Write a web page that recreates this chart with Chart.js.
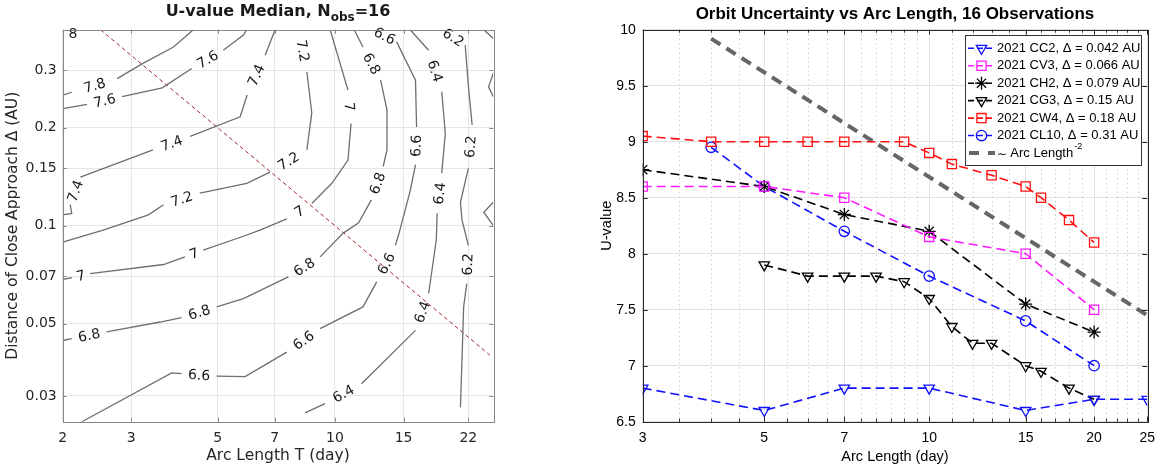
<!DOCTYPE html>
<html lang="en">
<head>
<meta charset="UTF-8">
<title>U-value Median and Orbit Uncertainty</title>
<script src="https://cdn.jsdelivr.net/npm/chart.js@4.4.1/dist/chart.umd.min.js"></script>
<style>
html, body { margin: 0; padding: 0; background: #fff; }
body { width: 1163px; height: 474px; position: relative; overflow: hidden; }
#left { position: absolute; left: 0; top: 0; width: 520px; height: 474px; }
#right { position: absolute; left: 580px; top: 0; width: 583px; height: 474px; }
</style>
</head>
<body>
<canvas id="left" width="520" height="474"></canvas>
<canvas id="right" width="583" height="474"></canvas>
<script>
// ---- left panel: contours of median U-value, points are [arc length T (day), delta (AU)]
// a null splits a contour, its label sits in the gap
const contourLevels = ["8", "7.8", "7.6", "7.4", "7.2", "7", "6.8", "6.6", "6.4", "6.2", "6"];
const unlabeled = ["6"];
const c80 = [[2.0, 0.39], null, [2.26, 0.39]];
const c78 = [[2.0, 0.252], [2.11, 0.257], null, [2.76, 0.283], [3.18, 0.313], [3.85, 0.354], [4.33, 0.4]];
const c76 = [[2.0, 0.229], [2.31, 0.236], null, [2.84, 0.249], [3.6, 0.265], [4.29, 0.304], null, [5.17, 0.346], [5.82, 0.385], [5.94, 0.4]];
const c74 = [[7.02, 0.4], [6.62, 0.334], null, [5.95, 0.252], [5.71, 0.216], [4.25, 0.188], null, [3.41, 0.171], [2.22, 0.141], null, [2.09, 0.116], [2.11, 0.109], [2.0, 0.108]];
const c72 = [[8.09, 0.4], null, [8.47, 0.297], [8.72, 0.222], [8.47, 0.171], null, [6.81, 0.146], [5.94, 0.135], [4.5, 0.126], null, [3.63, 0.116], [3.32, 0.108], [2.54, 0.0969], [2.0, 0.0891]];
const c70 = [[9.72, 0.4], [10.8, 0.261], null, [11.0, 0.206], [10.8, 0.159], [9.82, 0.135], [8.72, 0.117], null, [7.52, 0.105], [6.42, 0.0969], [5.82, 0.0928], [4.59, 0.0841], null, [4.12, 0.0802], [3.63, 0.076], [2.35, 0.0713], null, [2.11, 0.0692], [2.0, 0.0684]];
const c68 = [[11.2, 0.4], [11.8, 0.354], null, [13.1, 0.28], [13.6, 0.227], [13.6, 0.171], [13.3, 0.152], null, [12.4, 0.12], [11.5, 0.102], [10.5, 0.0949], [9.16, 0.0802], null, [7.59, 0.0696], [5.82, 0.0597], [4.97, 0.0563], null, [4.04, 0.0522], [3.56, 0.0506], [2.59, 0.0472], null, [2.11, 0.045], [2.0, 0.0444]];
const c66 = [[12.5, 0.4], null, [14.4, 0.367], [16.1, 0.28], [16.2, 0.201], null, [16.1, 0.154], [15.6, 0.128], [14.6, 0.0946], [14.3, 0.0871], null, [12.8, 0.0672], [11.8, 0.0563], [9.16, 0.0483], null, [7.52, 0.0409], [5.88, 0.0344], [4.97, 0.0345], null, [4.04, 0.0351], [3.81, 0.0353], [2.24, 0.025]];
const c64 = [[15.6, 0.4], [17.4, 0.346], null, [18.8, 0.258], [19.2, 0.192], [18.8, 0.145], null, [18.3, 0.109], [18.2, 0.0902], [17.4, 0.0619], null, [16.1, 0.0477], [11.7, 0.0327], null, [9.43, 0.0284], [8.38, 0.0266]];
const c62 = [[18.8, 0.4], null, [21.6, 0.359], [22.0, 0.27], [22.5, 0.204], null, [22.0, 0.15], [21.0, 0.118], [21.2, 0.104], [22.0, 0.0871], null, [21.8, 0.0664], [21.4, 0.0563], [21.0, 0.0277]];
const c60 = [[24.1, 0.4], [25.5, 0.376], null, [25.5, 0.294], [24.8, 0.267], [25.5, 0.249], null, [25.5, 0.118], [24.1, 0.11], [25.5, 0.1]];
const contourLines = [c80, c78, c76, c74, c72, c70, c68, c66, c64, c62, c60];
// dashed dark red guide
const guideT = [2.5, 25];
const guideD = [0.4, 0.04];
const leftXTicks = [2, 3, 5, 7, 10, 15, 22];
const leftYTicks = [0.03, 0.05, 0.07, 0.1, 0.15, 0.2, 0.3];

// ---- right panel: U-value vs arc length
const cc2Days = [3, 5, 7, 10, 15, 20, 25];
const cc2U = [6.8, 6.6, 6.8, 6.8, 6.6, 6.7, 6.7];
const cv3Days = [3, 5, 7, 10, 15, 20];
const cv3U = [8.6, 8.6, 8.5, 8.15, 8.0, 7.5];
const ch2Days = [3, 5, 7, 10, 15, 20];
const ch2U = [8.75, 8.6, 8.35, 8.2, 7.55, 7.3];
const cg3Days = [5, 6, 7, 8, 9, 10, 11, 12, 13, 15, 16, 18, 20];
const cg3U = [7.9, 7.8, 7.8, 7.8, 7.75, 7.6, 7.35, 7.2, 7.2, 7.0, 6.95, 6.8, 6.7];
const cw4Days = [3, 4, 5, 6, 7, 9, 10, 11, 13, 15, 16, 18, 20];
const cw4U = [9.05, 9.0, 9.0, 9.0, 9.0, 9.0, 8.9, 8.8, 8.7, 8.6, 8.5, 8.3, 8.1];
const cl10Days = [4, 5, 7, 10, 15, 20];
const cl10U = [8.95, 8.6, 8.2, 7.8, 7.4, 7.0];
const refDays = [4, 25];
const refU = [9.92, 7.45];
const seriesNames = [
  "2021 CC2, \u0394 = 0.042 AU",
  "2021 CV3, \u0394 = 0.066 AU",
  "2021 CH2, \u0394 = 0.079 AU",
  "2021 CG3, \u0394 = 0.15 AU",
  "2021 CW4, \u0394 = 0.18 AU",
  "2021 CL10, \u0394 = 0.31 AU"
];
const rightXTicks = [3, 5, 7, 10, 15, 20, 25];
const rightXMinor = [3.5, 4, 4.5, 5.5, 6, 6.5, 7.5, 8, 8.5, 9, 9.5, 11, 12, 13, 14, 16, 17, 18, 19, 21, 22, 23, 24];

const toXY = (xs, ys) => xs.map((x, i) => ({ x: x, y: ys[i] }));

// ---------------- left chart ----------------
const leftFont = '"DejaVu Sans", sans-serif';

const contourDecor = {
  id: "contourDecor",
  afterDatasetsDraw(chart) {
    const ctx = chart.ctx;
    const area = chart.chartArea;
    const xs = chart.scales.x, ys = chart.scales.y;

    // labels in the contour gaps
    ctx.save();
    ctx.font = "14px " + leftFont;
    ctx.fillStyle = "#1a1a1a";
    ctx.textAlign = "center";
    ctx.textBaseline = "middle";
    contourLines.forEach((line, k) => {
      if (unlabeled.includes(contourLevels[k])) return;
      const meta = chart.getDatasetMeta(k);
      line.forEach((p, i) => {
        if (p !== null) return;
        const a = meta.data[i - 1], b = meta.data[i + 1];
        let ang = Math.atan2(b.y - a.y, b.x - a.x);
        if (ang > Math.PI / 2) ang -= Math.PI;
        if (ang < -Math.PI / 2) ang += Math.PI;
        ctx.save();
        ctx.translate((a.x + b.x) / 2, (a.y + b.y) / 2);
        ctx.rotate(ang);
        ctx.fillText(contourLevels[k], 0, 1);
        ctx.restore();
      });
    });
    ctx.restore();

    // box and inward ticks
    ctx.save();
    ctx.strokeStyle = "#868686";
    ctx.lineWidth = 1;
    ctx.beginPath();
    leftXTicks.forEach(v => {
      const x = Math.round(xs.getPixelForValue(v)) + 0.5;
      ctx.moveTo(x, area.bottom); ctx.lineTo(x, area.bottom - 4);
      ctx.moveTo(x, area.top); ctx.lineTo(x, area.top + 4);
    });
    leftYTicks.forEach(v => {
      const y = Math.round(ys.getPixelForValue(v)) + 0.5;
      ctx.moveTo(area.left, y); ctx.lineTo(area.left + 4, y);
      ctx.moveTo(area.right, y); ctx.lineTo(area.right - 4, y);
    });
    ctx.stroke();
    ctx.strokeRect(Math.round(area.left) + 0.5, Math.round(area.top) + 0.5,
      Math.round(area.right - area.left), Math.round(area.bottom - area.top));
    ctx.restore();
  },
  afterDraw(chart) {
    const ctx = chart.ctx;
    const area = chart.chartArea;
    const cx = (area.left + area.right) / 2;
    ctx.save();
    ctx.fillStyle = "#1a1a1a";
    // title with subscript
    const big = "bold 16px " + leftFont, small = "bold 12px " + leftFont;
    const t1 = "U-value Median, N", t2 = "obs", t3 = "=16";
    ctx.font = big; const w1 = ctx.measureText(t1).width, w3 = ctx.measureText(t3).width;
    ctx.font = small; const w2 = ctx.measureText(t2).width;
    let x = cx - (w1 + w2 + w3) / 2;
    ctx.textAlign = "left";
    ctx.textBaseline = "alphabetic";
    ctx.font = big; ctx.fillText(t1, x, 16); x += w1;
    ctx.font = small; ctx.fillText(t2, x, 21); x += w2;
    ctx.font = big; ctx.fillText(t3, x, 16);
    // axis titles
    ctx.fillStyle = "#262626";
    ctx.font = "15.5px " + leftFont;
    ctx.textAlign = "center";
    ctx.textBaseline = "middle";
    ctx.fillText("Arc Length T (day)", cx, 456);
    ctx.translate(13, (area.top + area.bottom) / 2);
    ctx.rotate(-Math.PI / 2);
    ctx.fillText("Distance of Close Approach \u0394 (AU)", 0, 0);
    ctx.restore();
  }
};

const contourSets = contourLines.map((line, k) => ({
  label: contourLevels[k],
  data: line.map(p => p ? { x: p[0], y: p[1] } : { x: null, y: null }),
  showLine: true,
  spanGaps: false,
  borderColor: "#6e6e6e",
  borderWidth: 1.3,
  pointRadius: 0
}));
contourSets.push({
  label: "guide",
  data: toXY(guideT, guideD),
  showLine: true,
  borderColor: "#a3262f",
  borderWidth: 1,
  borderDash: [4, 3],
  pointRadius: 0
});

new Chart(document.getElementById("left"), {
  type: "scatter",
  data: { datasets: contourSets },
  options: {
    responsive: false,
    animation: false,
    events: [],
    layout: { padding: { left: 0, right: 26.7, top: 29.7, bottom: 0 } },
    plugins: { legend: { display: false }, tooltip: { enabled: false }, title: { display: false } },
    scales: {
      x: {
        type: "logarithmic",
        min: 2,
        max: 25.5,
        afterBuildTicks: s => { s.ticks = leftXTicks.map(v => ({ value: v })); },
        afterFit: s => { s.height = 52.3; },
        grid: { color: "#e6e6e6", drawTicks: false },
        border: { display: false },
        ticks: {
          autoSkip: false, maxRotation: 0, padding: 8,
          color: "#262626", font: { family: leftFont, size: 14 },
          callback: v => String(v)
        }
      },
      y: {
        type: "logarithmic",
        min: 0.025,
        max: 0.4,
        afterBuildTicks: s => { s.ticks = leftYTicks.map(v => ({ value: v })); },
        afterFit: s => { s.width = 62.7; },
        grid: { color: "#e6e6e6", drawTicks: false },
        border: { display: false },
        ticks: {
          autoSkip: false, padding: 6,
          color: "#262626", font: { family: leftFont, size: 14 },
          callback: v => String(v)
        }
      }
    }
  },
  plugins: [contourDecor]
});

// ---------------- right chart ----------------
const rightFont = '"Liberation Sans", Arial, sans-serif';

function series(label, xs, ys, color, style, rotation, radius) {
  return {
    label: label,
    data: toXY(xs, ys),
    showLine: true,
    borderColor: color,
    borderWidth: 1.6,
    borderDash: [9, 5],
    pointStyle: style,
    pointRotation: rotation,
    pointRadius: radius,
    pointBorderColor: color,
    pointBackgroundColor: "rgba(0,0,0,0)",
    pointBorderWidth: 1.3
  };
}

const rightSets = [
  series(seriesNames[0], cc2Days, cc2U, "#1010ff", "triangle", 180, 6),
  series(seriesNames[1], cv3Days, cv3U, "#ff1aff", "rect", 0, 6.5),
  series(seriesNames[2], ch2Days, ch2U, "#000000", "star", 0, 6.5),
  series(seriesNames[3], cg3Days, cg3U, "#000000", "triangle", 180, 6),
  series(seriesNames[4], cw4Days, cw4U, "#ff1010", "rect", 0, 6.5),
  series(seriesNames[5], cl10Days, cl10U, "#1010ff", "circle", 0, 5.2),
  {
    label: "ref",
    data: toXY(refDays, refU),
    showLine: true,
    borderColor: "#666666",
    borderWidth: 4,
    borderDash: [11, 7],
    pointRadius: 0
  }
];

const orbitDecor = {
  id: "orbitDecor",
  beforeDatasetsDraw(chart) {
    const ctx = chart.ctx;
    const area = chart.chartArea;
    const xs = chart.scales.x;
    ctx.save();
    ctx.strokeStyle = "#cfcfcf";
    ctx.lineWidth = 1;
    ctx.setLineDash([1.5, 3]);
    ctx.beginPath();
    rightXMinor.forEach(v => {
      const x = Math.round(xs.getPixelForValue(v)) + 0.5;
      ctx.moveTo(x, area.top); ctx.lineTo(x, area.bottom);
    });
    ctx.stroke();
    ctx.restore();
  },
  afterDatasetsDraw(chart) {
    const ctx = chart.ctx;
    const area = chart.chartArea;
    const xs = chart.scales.x, ys = chart.scales.y;
    ctx.save();
    ctx.strokeStyle = "#262626";
    ctx.lineWidth = 1;
    ctx.beginPath();
    rightXTicks.forEach(v => {
      const x = Math.round(xs.getPixelForValue(v)) + 0.5;
      ctx.moveTo(x, area.bottom); ctx.lineTo(x, area.bottom - 5);
      ctx.moveTo(x, area.top); ctx.lineTo(x, area.top + 5);
    });
    rightXMinor.forEach(v => {
      const x = Math.round(xs.getPixelForValue(v)) + 0.5;
      ctx.moveTo(x, area.bottom); ctx.lineTo(x, area.bottom - 3);
      ctx.moveTo(x, area.top); ctx.lineTo(x, area.top + 3);
    });
    ys.ticks.forEach(t => {
      const y = Math.round(ys.getPixelForValue(t.value)) + 0.5;
      ctx.moveTo(area.left, y); ctx.lineTo(area.left + 5, y);
      ctx.moveTo(area.right, y); ctx.lineTo(area.right - 5, y);
    });
    ctx.stroke();
    ctx.strokeRect(Math.round(area.left) + 0.5, Math.round(area.top) + 0.5,
      Math.round(area.right - area.left), Math.round(area.bottom - area.top));
    ctx.restore();
  },
  afterDraw(chart) {
    const ctx = chart.ctx;
    const area = chart.chartArea;
    const cx = (area.left + area.right) / 2;
    ctx.save();
    // titles
    ctx.fillStyle = "#000";
    ctx.textAlign = "center";
    ctx.textBaseline = "middle";
    ctx.font = "bold 17px " + rightFont;
    ctx.fillText("Orbit Uncertainty vs Arc Length, 16 Observations", cx, 14.5);
    ctx.font = "14.5px " + rightFont;
    ctx.fillText("Arc Length (day)", cx, 457);
    ctx.save();
    ctx.translate(27, (area.top + area.bottom) / 2);
    ctx.rotate(-Math.PI / 2);
    ctx.fillText("U-value", 0, 0);
    ctx.restore();

    // legend box
    const bx = 385.5, by = 35.5, bw = 176, bh = 130;
    ctx.fillStyle = "#fff";
    ctx.fillRect(bx, by, bw, bh);
    ctx.strokeStyle = "#333";
    ctx.lineWidth = 1;
    ctx.strokeRect(bx, by, bw, bh);
    ctx.font = "13px " + rightFont;
    ctx.textAlign = "left";
    ctx.textBaseline = "middle";
    seriesNames.forEach((name, i) => {
      const ds = chart.data.datasets[i];
      const y = 48.3 + i * 17.45;
      ctx.save();
      ctx.strokeStyle = ds.borderColor;
      ctx.lineWidth = 1.6;
      ctx.setLineDash([6, 3]);
      ctx.beginPath();
      ctx.moveTo(388, y); ctx.lineTo(415, y);
      ctx.stroke();
      ctx.setLineDash([]);
      ctx.fillStyle = "rgba(0,0,0,0)";
      ctx.lineWidth = 1.3;
      Chart.helpers.drawPoint(ctx, {
        pointStyle: ds.pointStyle, rotation: ds.pointRotation,
        radius: ds.pointRadius, borderWidth: 1.3
      }, 401.5, y);
      ctx.restore();
      ctx.fillStyle = "#000";
      ctx.fillText(name, 417, y);
    });
    // reference line entry
    const gy = 153;
    ctx.save();
    ctx.strokeStyle = "#666";
    ctx.lineWidth = 4;
    ctx.beginPath();
    ctx.moveTo(389, gy); ctx.lineTo(399, gy);
    ctx.moveTo(408, gy); ctx.lineTo(415, gy);
    ctx.stroke();
    ctx.restore();
    ctx.fillStyle = "#000";
    ctx.font = "12px " + rightFont;
    ctx.fillText("\u223C", 417, gy + 2);
    const tw = ctx.measureText("\u223C ").width;
    ctx.font = "13px " + rightFont;
    ctx.fillText("Arc Length", 417 + tw, gy);
    const aw = ctx.measureText("Arc Length").width;
    ctx.font = "9px " + rightFont;
    ctx.fillText("-2", 417 + tw + aw + 1, gy - 6);
    ctx.restore();
  }
};

new Chart(document.getElementById("right"), {
  type: "scatter",
  data: { datasets: rightSets },
  options: {
    responsive: false,
    animation: false,
    events: [],
    layout: { padding: { left: 0, right: 15, top: 29.7, bottom: 0 } },
    plugins: { legend: { display: false }, tooltip: { enabled: false }, title: { display: false } },
    scales: {
      x: {
        type: "logarithmic",
        min: 3,
        max: 25,
        afterBuildTicks: s => { s.ticks = rightXTicks.map(v => ({ value: v })); },
        afterFit: s => { s.height = 52.3; },
        grid: { color: "#e2e2e2", drawTicks: false },
        border: { display: false },
        ticks: {
          autoSkip: false, maxRotation: 0, padding: 8,
          color: "#000", font: { family: rightFont, size: 14 },
          callback: v => String(v)
        }
      },
      y: {
        type: "linear",
        min: 6.5,
        max: 10,
        afterFit: s => { s.width = 62.7; },
        grid: { color: "#e2e2e2", drawTicks: false },
        border: { display: false },
        ticks: {
          stepSize: 0.5, padding: 7,
          color: "#000", font: { family: rightFont, size: 14 },
          callback: v => String(v)
        }
      }
    }
  },
  plugins: [orbitDecor]
});
</script>
</body>
</html>
